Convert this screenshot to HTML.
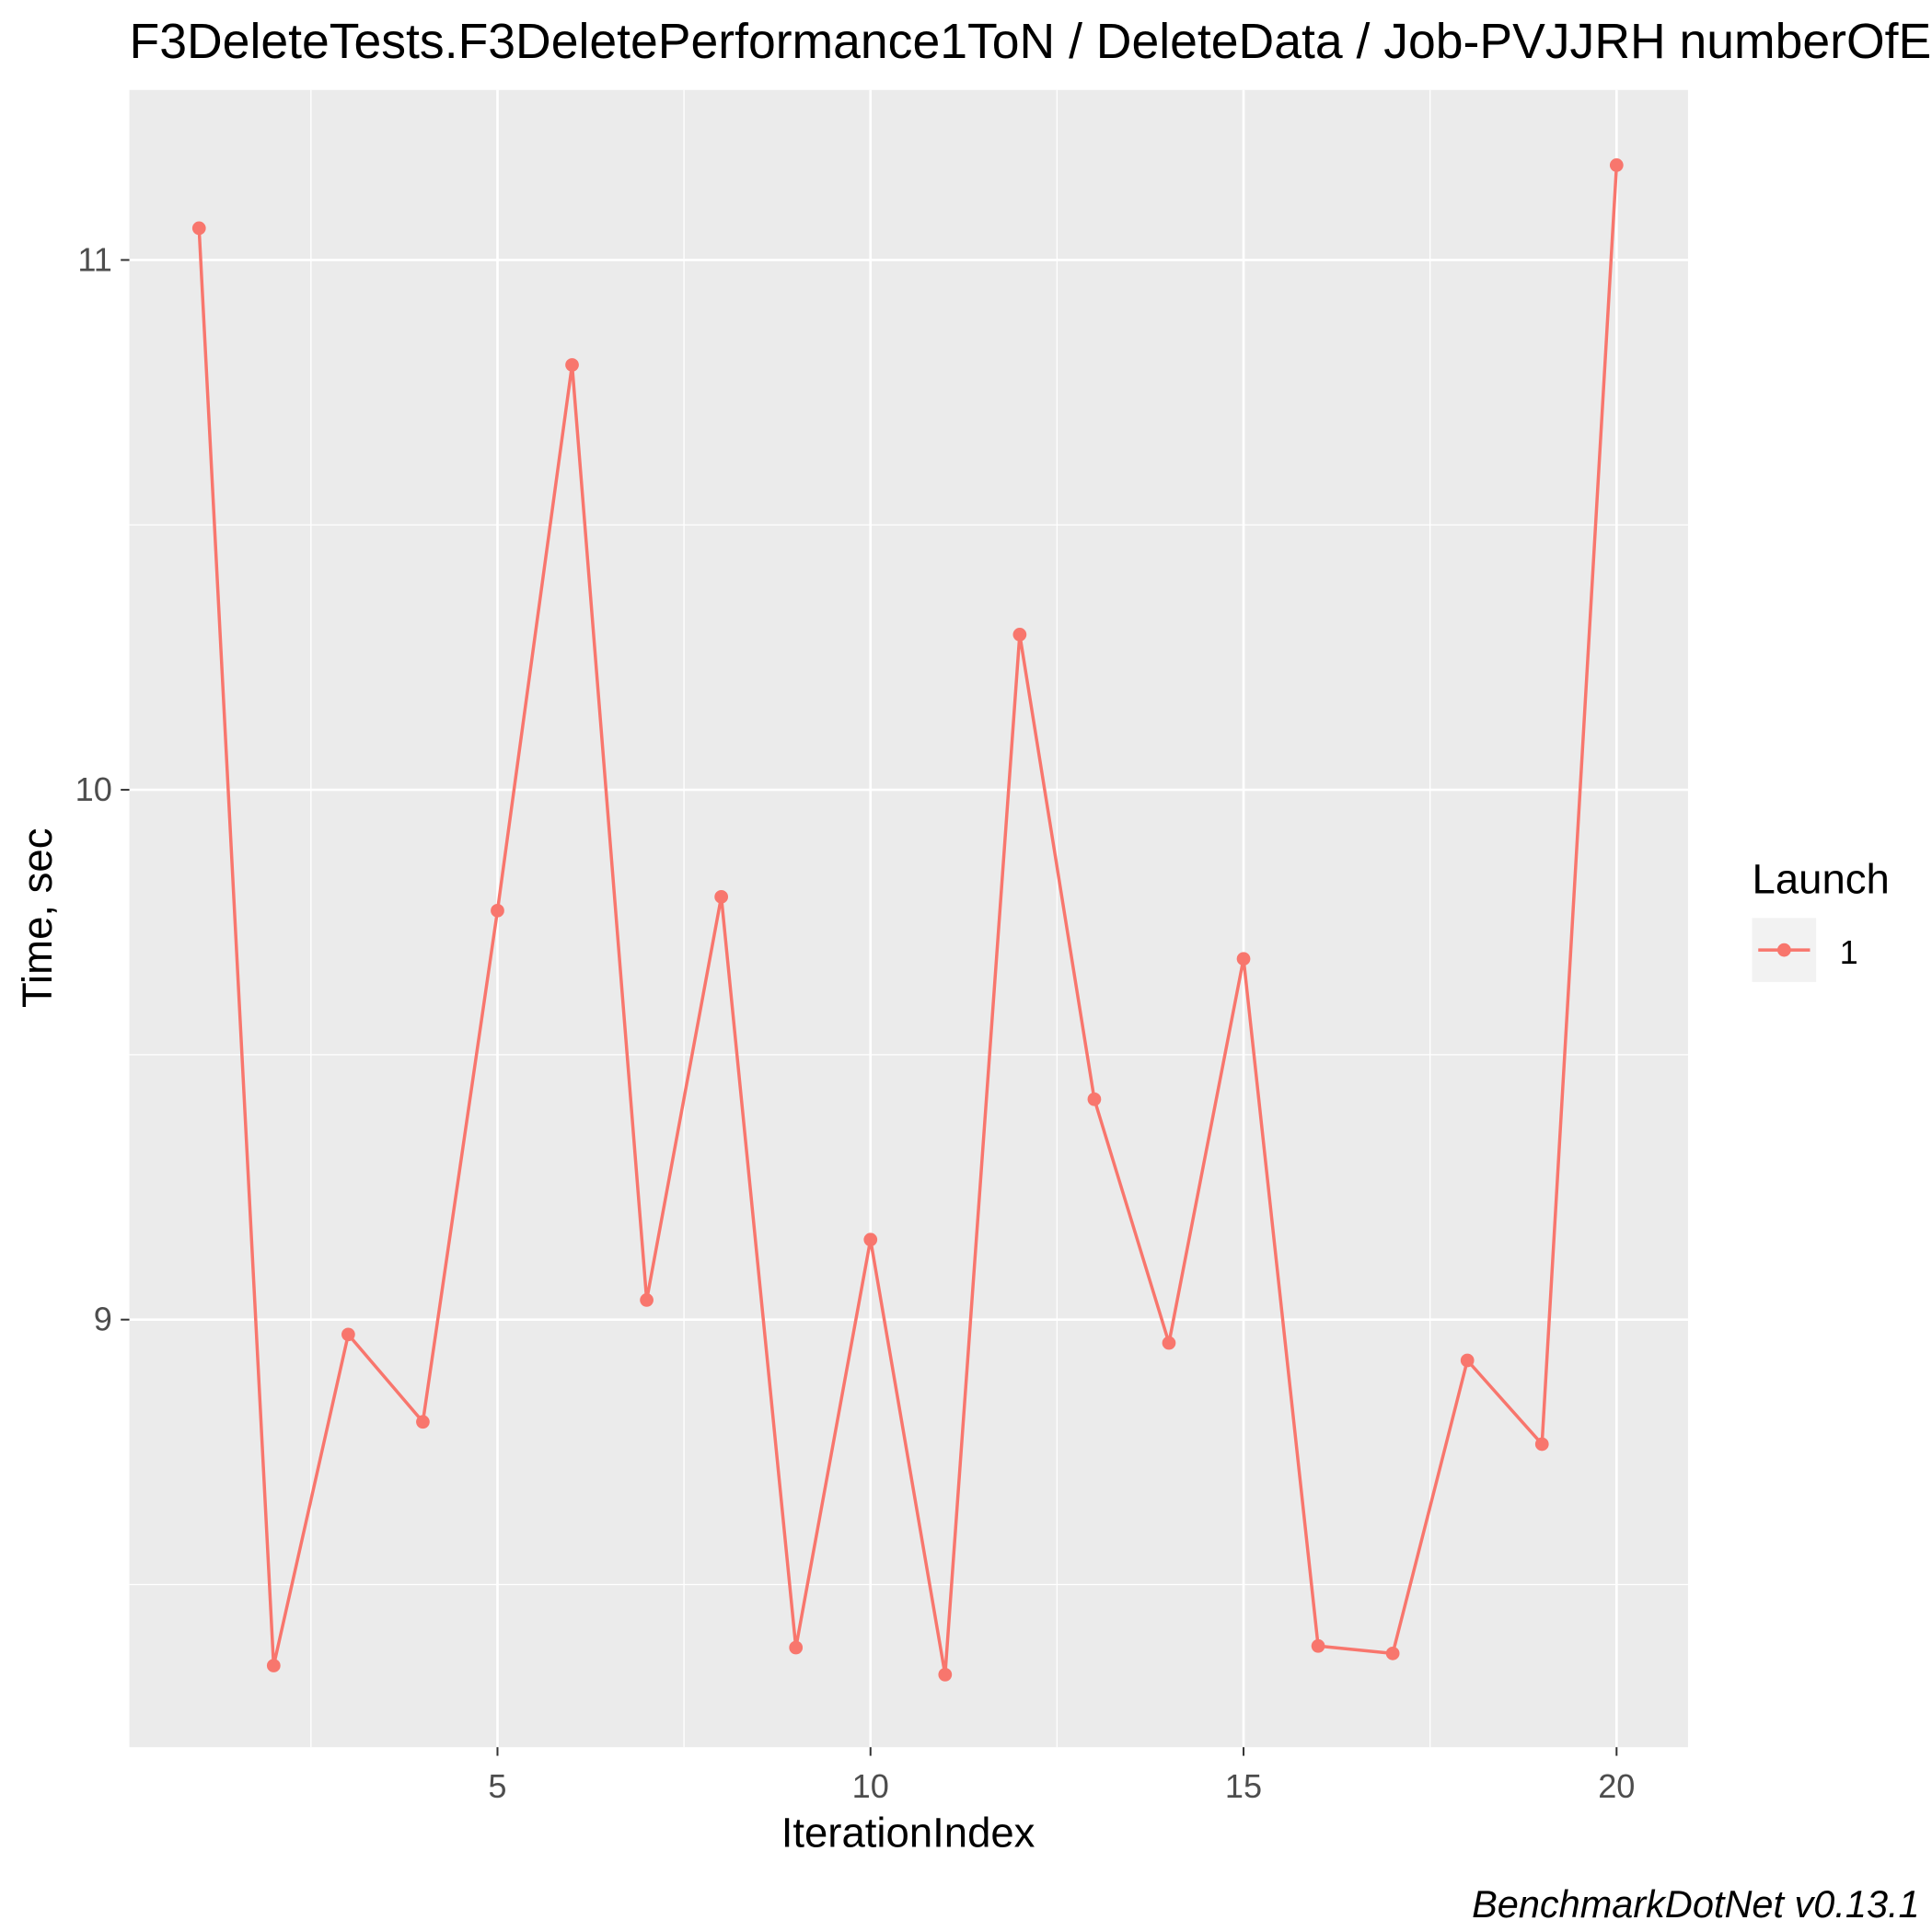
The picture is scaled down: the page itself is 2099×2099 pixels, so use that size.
<!DOCTYPE html>
<html><head><meta charset="utf-8"><style>
html,body{margin:0;padding:0;background:#fff;}
svg{display:block;font-family:"Liberation Sans",Arial,sans-serif;}
</style></head><body>
<svg id="chart" width="2099" height="2099" viewBox="0 0 1568 1568" xmlns="http://www.w3.org/2000/svg">
<text x="105" y="47" font-size="40" fill="#000">F3DeleteTests.F3DeletePerformance1ToN / DeleteData / Job-PVJJRH numberOfEntities</text>
<rect x="105" y="73" width="1265" height="1345" fill="#ebebeb"/>
<g id="grid"></g>
<g id="axes"></g>
<g id="series"></g>
<text x="737" y="1499" font-size="34" text-anchor="middle" fill="#000">IterationIndex</text>
<text transform="translate(42,745) rotate(-90)" font-size="34" text-anchor="middle" fill="#000">Time, sec</text>
<g>
<text x="1422" y="725" font-size="34" fill="#000">Launch</text>
<rect x="1422" y="745" width="52" height="52" fill="#f2f2f2"/>
<line x1="1427" y1="771" x2="1469" y2="771" stroke="#f8766d" stroke-width="2.6"/>
<circle cx="1448" cy="771" r="5.5" fill="#f8766d"/>
<text x="1493" y="782" font-size="27" fill="#000">1</text>
</g>
<text x="1558" y="1556" font-size="31" font-style="italic" text-anchor="end" fill="#000">BenchmarkDotNet v0.13.1</text>
</svg>
<script>
const iterations = [1,2,3,4,5,6,7,8,9,10,11,12,13,14,15,16,17,18,19,20];
const times = [11.060,8.347,8.972,8.807,9.772,10.802,9.037,9.798,8.381,9.151,8.330,10.293,9.416,8.956,9.681,8.384,8.370,8.923,8.765,11.179];
const xTicks = [5,10,15,20];
const yTicks = [9,10,11];
const xMinor = [2.5,7.5,12.5,17.5];
const yMinor = [8.5,9.5,10.5];
const NS="http://www.w3.org/2000/svg";
const X = v => 101 + (v)*60.55;
const Y = v => 641 - (v-10)*430;
function mk(tag,attrs,parent){const e=document.createElementNS(NS,tag);for(const k in attrs)e.setAttribute(k,attrs[k]);parent.appendChild(e);return e;}
const grid=document.getElementById('grid'), axes=document.getElementById('axes'), series=document.getElementById('series');
xMinor.forEach(v=>{const l=mk('line',{x1:X(v),x2:X(v),y1:73,y2:1418,stroke:'#fff','stroke-width':1},grid);

});
yMinor.forEach(v=>{const l=mk('line',{x1:105,x2:1370,y1:Y(v),y2:Y(v),stroke:'#fff','stroke-width':1},grid);

});
xTicks.forEach(v=>{const l=mk('line',{x1:X(v),x2:X(v),y1:73,y2:1418,stroke:'#fff','stroke-width':2},grid);


const t=mk('line',{x1:X(v),x2:X(v),y1:1418,y2:1425,stroke:'#333','stroke-width':1.5},axes);


const tx=mk('text',{x:X(v),y:1459,'font-size':27,'text-anchor':'middle',fill:'#4d4d4d'},axes);tx.textContent=v;

});
yTicks.forEach(v=>{const l=mk('line',{x1:105,x2:1370,y1:Y(v),y2:Y(v),stroke:'#fff','stroke-width':2},grid);


const t=mk('line',{x1:98,x2:105,y1:Y(v),y2:Y(v),stroke:'#333','stroke-width':1.5},axes);


const tx=mk('text',{x:91,y:Y(v)+9,'font-size':27,'text-anchor':'end',fill:'#4d4d4d'},axes);tx.textContent=v;

});
const pts=iterations.map((it,i)=>X(it)+','+Y(times[i])).join(' ');
const pl=mk('polyline',{points:pts,fill:'none',stroke:'#f8766d','stroke-width':2.6},series);


iterations.forEach((it,i)=>{const c=mk('circle',{cx:X(it),cy:Y(times[i]),r:5.5,fill:'#f8766d'},series);

});
</script>
</body></html>
